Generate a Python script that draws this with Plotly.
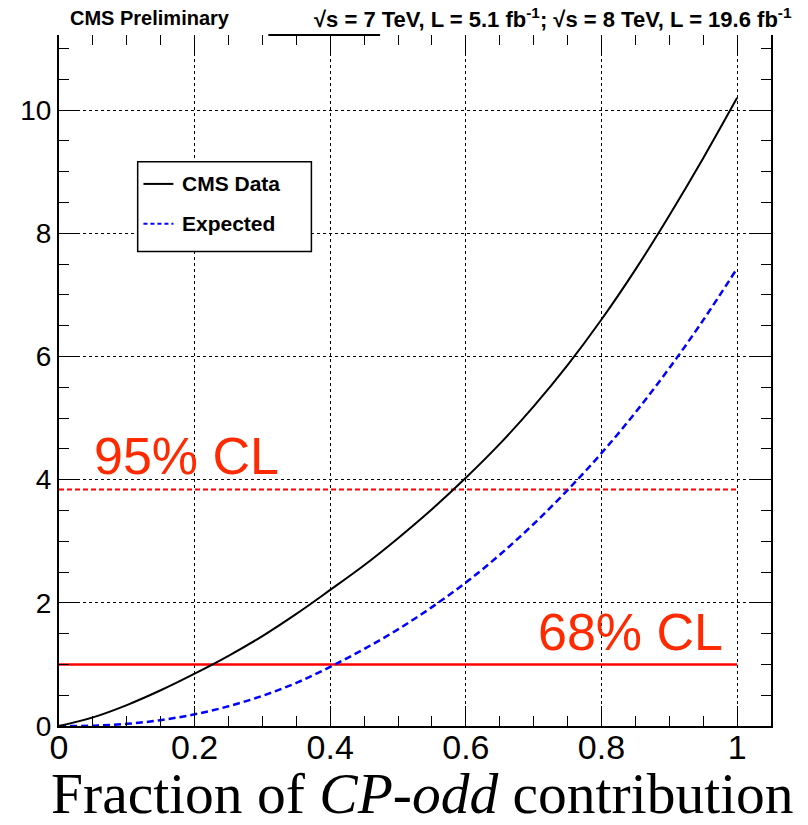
import plotly.graph_objects as go

# Scan of -2 Delta lnL versus the CP-odd fraction
frac = [0.0, 0.05, 0.10, 0.15, 0.20, 0.25, 0.30, 0.35, 0.40, 0.45, 0.50,
        0.55, 0.60, 0.65, 0.70, 0.75, 0.80, 0.85, 0.90, 0.95, 1.00]
cms_data = [0.0, 0.14, 0.34, 0.58, 0.85, 1.14, 1.46, 1.82, 2.21, 2.61, 3.05,
            3.52, 4.03, 4.58, 5.19, 5.86, 6.60, 7.41, 8.29, 9.22, 10.20]
expected = [0.0, 0.005, 0.035, 0.095, 0.19, 0.32, 0.49, 0.70, 0.96, 1.25, 1.57,
            1.93, 2.33, 2.78, 3.28, 3.83, 4.43, 5.09, 5.81, 6.59, 7.43]

cl_levels = [1.0, 3.84]
cl_labels = ["68% CL", "95% CL"]
x_ticks = [0, 0.2, 0.4, 0.6, 0.8, 1]
x_tick_text = ["0", "0.2", "0.4", "0.6", "0.8", "1"]
y_ticks = [0, 2, 4, 6, 8, 10]
y_tick_text = ["0", "2", "4", "6", "8", "10"]

X_RANGE = [0, 1.05]
Y_RANGE = [0, 11.22]
SANS = "Liberation Sans, Arial, Helvetica, sans-serif"
SERIF = "Liberation Serif, Times New Roman, serif"

fig = go.Figure()

# confidence-level reference lines
fig.add_trace(go.Scatter(x=[0, 1], y=[cl_levels[0]] * 2, mode="lines",
                         line=dict(color="#ff0000", width=2.5),
                         showlegend=False, hoverinfo="skip"))
fig.add_trace(go.Scatter(x=[0, 1], y=[cl_levels[1]] * 2, mode="lines",
                         line=dict(color="#ff0000", width=2, dash="5px,3px"),
                         showlegend=False, hoverinfo="skip"))

fig.add_trace(go.Scatter(x=frac, y=expected, mode="lines", name="Expected",
                         line=dict(color="#0000ff", width=2.5, dash="7px,4px",
                                   shape="spline"),
                         showlegend=False))
fig.add_trace(go.Scatter(x=frac, y=cms_data, mode="lines", name="CMS Data",
                         line=dict(color="black", width=2, shape="spline"),
                         showlegend=False))

axis_common = dict(
    ticks="inside", ticklen=20, tickwidth=1, tickcolor="black",
    minor=dict(ticks="inside", ticklen=10, tickwidth=1, tickcolor="black",
               showgrid=False),
    zeroline=False,
)

fig.update_layout(
    width=808, height=825,
    margin=dict(l=58.5, r=37, t=35, b=98.5),
    paper_bgcolor="white", plot_bgcolor="white",
    showlegend=False,
    xaxis=dict(range=X_RANGE, tickvals=x_ticks, ticktext=x_tick_text,
               showline=True, linewidth=2, linecolor="black",
               showgrid=True, gridcolor="black", gridwidth=1, griddash="dot",
               tickfont=dict(family=SANS, size=34, color="black"),
               ticklabelstandoff=-10,
               **{**axis_common, "minor": {**axis_common["minor"], "dtick": 0.05}}),
    yaxis=dict(range=Y_RANGE, tickvals=y_ticks, ticktext=y_tick_text,
               showline=True, linewidth=2, linecolor="black",
               showgrid=True, gridcolor="black", gridwidth=1, griddash="dot",
               tickfont=dict(family=SANS, size=28, color="black"),
               **{**axis_common, "minor": {**axis_common["minor"], "dtick": 0.5}}),
    # tick marks along the top and right edges of the frame
    xaxis2=dict(range=X_RANGE, overlaying="x", side="top", anchor="y",
                tickvals=x_ticks, showticklabels=False, showline=False,
                showgrid=False,
                **{**axis_common, "minor": {**axis_common["minor"], "dtick": 0.05}}),
    yaxis2=dict(range=Y_RANGE, overlaying="y", side="right", anchor="x",
                tickvals=y_ticks, showticklabels=False, showline=True,
                linewidth=2, linecolor="black", showgrid=False,
                **{**axis_common, "minor": {**axis_common["minor"], "dtick": 0.5}}),
)

# invisible trace so the top/right axes are laid out
fig.add_trace(go.Scatter(x=[None], y=[None], xaxis="x2", yaxis="y2",
                         showlegend=False, hoverinfo="skip"))

# visible stretch of the top frame edge between the header texts
fig.add_shape(type="line", xref="paper", yref="paper", x0=0.294, x1=0.451,
              y0=1, y1=1, line=dict(color="black", width=2))

# legend box
fig.add_shape(type="rect", xref="paper", yref="paper",
              x0=0.1105, x1=0.3545, y0=0.6866, y1=0.8166,
              line=dict(color="black", width=1.5), fillcolor="white",
              layer="above")
fig.add_shape(type="line", xref="paper", yref="paper", x0=0.1186, x1=0.1607,
              y0=0.7845, y1=0.7845, line=dict(color="black", width=2),
              layer="above")
fig.add_shape(type="line", xref="paper", yref="paper", x0=0.1186, x1=0.1607,
              y0=0.7267, y1=0.7267,
              line=dict(color="#0000ff", width=2, dash="4px,3px"),
              layer="above")
fig.add_annotation(xref="paper", yref="paper", x=0.1705, y=0.7845,
                   text="<b>CMS Data</b>", showarrow=False,
                   xanchor="left", yanchor="middle",
                   font=dict(family=SANS, size=21, color="black"))
fig.add_annotation(xref="paper", yref="paper", x=0.1705, y=0.7267,
                   text="<b>Expected</b>", showarrow=False,
                   xanchor="left", yanchor="middle",
                   font=dict(family=SANS, size=21, color="black"))

# confidence-level labels
fig.add_annotation(x=0.049, y=4.38, xref="x", yref="y", text=cl_labels[1],
                   showarrow=False, xanchor="left", yanchor="middle",
                   font=dict(family=SANS, size=52, color="#ff2a00"))
fig.add_annotation(x=0.982, y=1.52, xref="x", yref="y", text=cl_labels[0],
                   showarrow=False, xanchor="right", yanchor="middle",
                   font=dict(family=SANS, size=52, color="#ff2a00"))

# header texts
fig.add_annotation(xref="paper", yref="paper", x=0.0133, y=1.0, yshift=17,
                   text="<b>CMS Preliminary</b>", showarrow=False,
                   xanchor="left", yanchor="middle",
                   font=dict(family=SANS, size=20, color="black"))
fig.add_annotation(xref="paper", yref="paper", x=1.032, y=1.0, yshift=17,
                   text="<b>√s = 7 TeV, L = 5.1 fb<sup>-1</sup>; "
                        "√s = 8 TeV, L = 19.6 fb<sup>-1</sup></b>",
                   showarrow=False, xanchor="right", yanchor="middle",
                   font=dict(family=SANS, size=22, color="black"))

# x-axis title
fig.add_annotation(xref="paper", yref="paper", x=0.511, y=0, yshift=-67,
                   text="Fraction of <i>CP-odd</i> contribution",
                   showarrow=False, xanchor="center", yanchor="middle",
                   font=dict(family=SERIF, size=57.5, color="black"))

fig.write_html("out.html")
